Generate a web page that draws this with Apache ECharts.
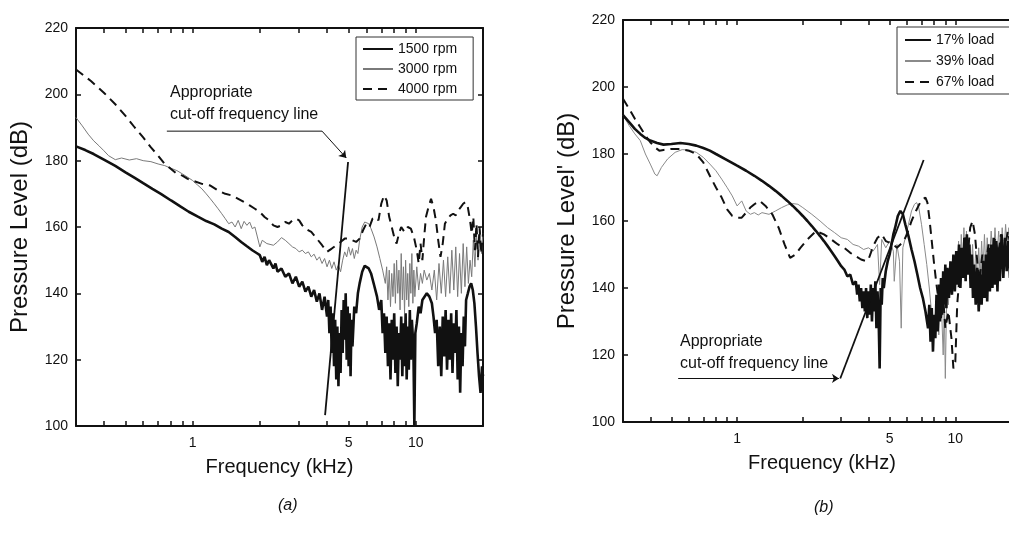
<!DOCTYPE html>
<html>
<head>
<meta charset="utf-8">
<script src="https://cdn.jsdelivr.net/npm/echarts@6/dist/echarts.min.js"></script>
<style>
html,body{margin:0;padding:0;background:#fff;}
#c{width:1009px;height:543px;}
</style>
</head>
<body>
<div id="c"></div>
<script>
// ---------- data (frequency kHz, level dB) ----------
const xTicks = [0.4,0.5,0.6,0.7,0.8,0.9,1,2,3,4,5,6,7,8,9,10,20];
const xTickLabels = [1,5,10];

// panel (a)
const rpm1500 = [[0.30,184.3],[0.33,183.2],[0.36,182],[0.40,180.3],[0.45,178.4],[0.50,176.5],[0.55,174.8],[0.60,173.2],[0.66,171.5],[0.72,170],[0.80,168],[0.88,166.2],[0.96,164.6],[1.05,163.2],[1.15,161.8],[1.25,160.8],[1.35,159.5],[1.45,158.5],[1.55,157],[1.65,155.5],[1.75,154.2],[1.85,153],[1.95,152],[2.0,151.5],[2.05,149.5],[2.1,151],[2.15,148.5],[2.2,150],[2.3,147.5],[2.35,149],[2.4,146.5],[2.5,147.5],[2.6,145],[2.7,146],[2.8,143],[2.9,145],[3.0,142],[3.1,143.5],[3.2,140.5],[3.3,142],[3.4,139],[3.5,141],[3.6,137.5],[3.7,140],[3.8,135],[3.9,139],[4.0,133],[4.05,138],[4.1,128],[4.15,136],[4.2,122],[4.25,134],[4.3,118],[4.35,132],[4.4,114],[4.45,130],[4.5,112],[4.55,128],[4.6,116],[4.65,135],[4.7,122],[4.75,138],[4.8,126],[4.85,140],[4.9,120],[4.95,136],[5.0,118],[5.05,134],[5.1,115],[5.15,132],[5.2,124],[5.3,136],[5.4,134],[5.5,140],[5.6,143],[5.75,146.5],[5.9,148.3],[6.0,148.5],[6.15,147.5],[6.3,146],[6.5,142.5],[6.7,139],[6.85,135],[7.0,138],[7.1,128],[7.2,134],[7.3,122],[7.4,133],[7.5,118],[7.6,131],[7.7,114],[7.8,132],[7.9,120],[8.0,134],[8.1,116],[8.2,130],[8.3,112],[8.4,128],[8.5,120],[8.6,133],[8.7,115],[8.8,131],[8.9,118],[9.0,134],[9.1,114],[9.2,130],[9.3,117],[9.4,135],[9.5,120],[9.6,132],[9.75,124],[9.85,100],[9.95,128],[10.1,131],[10.3,136],[10.5,134],[10.7,138],[10.9,138.5],[11.2,140],[11.5,139],[11.8,137],[12.0,133],[12.2,128],[12.4,132],[12.6,118],[12.8,130],[13.0,115],[13.2,133],[13.4,121],[13.6,135],[13.8,117],[14.0,132],[14.2,120],[14.4,134],[14.6,116],[14.8,131],[15.0,122],[15.2,135],[15.4,114],[15.6,130],[15.8,110],[16.0,128],[16.2,118],[16.4,133],[16.6,124],[16.8,138],[17.1,140],[17.4,142],[17.7,143],[18.0,141],[18.3,137],[18.6,130],[18.9,122],[19.2,115],[19.5,110],[19.8,118],[20,115]];

const rpm3000 = [[0.30,193],[0.32,190.5],[0.34,188],[0.36,186],[0.38,184.5],[0.40,183],[0.42,181.5],[0.45,180.3],[0.48,180.8],[0.52,180.2],[0.56,180.6],[0.60,180],[0.65,179.7],[0.70,179],[0.75,178.5],[0.80,177.7],[0.85,177],[0.90,176],[0.95,175],[1.0,174],[1.05,172.7],[1.1,171.5],[1.15,170],[1.2,168.5],[1.25,167],[1.3,165.5],[1.35,164],[1.4,162.5],[1.45,161],[1.5,161.5],[1.55,160],[1.6,162],[1.65,159.5],[1.7,161.7],[1.75,160.5],[1.8,161.5],[1.85,159.5],[1.9,160],[1.95,157],[2.0,154],[2.05,156],[2.15,155],[2.3,154.5],[2.4,155.5],[2.5,156.8],[2.6,156],[2.7,155],[2.8,154],[2.9,153.5],[3.0,152.5],[3.1,153],[3.2,152],[3.3,152.5],[3.4,151],[3.5,151.8],[3.6,150],[3.7,151],[3.8,149],[3.9,150.5],[4.0,148],[4.1,150],[4.2,147.5],[4.3,149.5],[4.4,147],[4.5,148.5],[4.6,146.5],[4.7,150],[4.8,152.5],[4.9,151],[5.0,154],[5.1,151.5],[5.2,153.5],[5.3,150.5],[5.4,153],[5.5,152],[5.6,156],[5.75,160],[5.9,161.5],[6.0,162],[6.15,161],[6.3,159.5],[6.5,157],[6.7,154],[6.9,150.5],[7.1,147],[7.3,143],[7.4,148],[7.5,138],[7.6,147],[7.7,136],[7.8,146],[7.9,139],[8.0,149],[8.1,137],[8.2,150],[8.3,140],[8.4,147],[8.5,135],[8.6,152],[8.7,138],[8.8,148],[8.9,134],[9.0,150],[9.1,138],[9.2,146],[9.3,136],[9.4,149],[9.5,140],[9.6,152],[9.7,137],[9.8,147],[9.9,139],[10.1,148],[10.3,141],[10.5,146],[10.7,143],[10.9,147],[11.2,144],[11.5,146],[11.8,141],[12.1,147],[12.4,138],[12.7,149],[13.0,140],[13.3,150],[13.6,139],[13.9,151],[14.2,140],[14.5,153],[14.8,141],[15.1,154],[15.4,139],[15.7,152],[16.0,140],[16.3,155],[16.6,142],[16.9,154],[17.2,143],[17.5,150],[17.8,145],[18.1,156],[18.4,148],[18.7,158],[19.0,150],[19.4,159],[19.7,152],[20,158]];

const rpm4000 = [[0.30,207.5],[0.35,204],[0.40,200.5],[0.45,197],[0.50,193.5],[0.55,190],[0.60,187],[0.65,184],[0.70,181.5],[0.75,179],[0.80,177.5],[0.85,176],[0.90,175.5],[0.95,174.5],[1.0,174],[1.1,173],[1.2,172.5],[1.3,171],[1.4,170],[1.5,169.5],[1.6,168.5],[1.7,167.5],[1.8,166.5],[1.9,165.5],[2.0,164.5],[2.1,163],[2.2,162],[2.3,160.5],[2.4,160],[2.5,160.5],[2.6,161.5],[2.7,161],[2.8,162],[2.9,162.5],[3.0,162],[3.1,160.5],[3.2,159.5],[3.4,158.5],[3.6,156.5],[3.8,154.5],[4.0,152.5],[4.2,153.5],[4.4,154.5],[4.6,155.5],[4.8,156.5],[5.0,156.5],[5.2,156],[5.4,155.5],[5.6,156.5],[5.8,159],[6.0,161],[6.2,160],[6.4,162.5],[6.6,163],[6.8,162],[7.0,167],[7.2,169.5],[7.4,168],[7.6,163],[7.8,160],[8.0,157],[8.2,155],[8.4,158],[8.6,160],[8.9,158.5],[9.2,160],[9.5,159.5],[9.8,157],[10.1,153],[10.3,149],[10.5,155],[10.7,150],[10.9,157],[11.1,163],[11.4,166],[11.7,168.5],[12.0,166],[12.3,162],[12.6,156],[12.9,151],[13.2,155],[13.5,161],[13.9,162.5],[14.3,163.5],[14.7,164],[15.1,163.5],[15.5,165],[15.9,166],[16.3,167],[16.7,167.5],[17.1,166],[17.5,162],[17.8,158],[18.1,163],[18.4,153],[18.7,161],[19.0,151],[19.3,160],[19.6,152],[20,158]];

// panel (b)
const load17 = [[0.30,191.6],[0.32,189.5],[0.34,187.5],[0.36,186],[0.38,184.8],[0.40,184],[0.43,183.3],[0.46,182.8],[0.50,183],[0.55,183.3],[0.60,183],[0.65,182.5],[0.70,181.8],[0.75,181],[0.80,180],[0.90,178.2],[1.0,176.5],[1.1,175],[1.2,173.5],[1.3,172],[1.4,170.5],[1.5,169],[1.6,167.5],[1.7,166],[1.8,164.5],[1.9,163],[2.0,161.5],[2.1,160],[2.2,158.5],[2.3,157],[2.4,155.5],[2.5,154],[2.6,152.5],[2.7,151],[2.8,149.5],[2.9,148],[3.0,146.5],[3.1,145.5],[3.2,143.5],[3.3,144],[3.4,141],[3.5,142],[3.55,138],[3.6,141],[3.65,136],[3.7,140],[3.75,134],[3.8,139],[3.85,133],[3.9,140],[3.95,131],[4.0,139],[4.05,132],[4.1,141],[4.15,130],[4.2,140],[4.25,133],[4.3,142],[4.35,128],[4.4,139],[4.45,132],[4.5,116],[4.55,140],[4.6,135],[4.65,143],[4.7,140],[4.8,145],[4.9,148],[5.0,150],[5.1,153],[5.2,156],[5.3,158],[5.45,161.5],[5.6,163],[5.75,162],[5.9,159],[6.1,155.5],[6.3,151.5],[6.5,148],[6.7,144],[6.9,140],[7.1,137],[7.3,133],[7.5,128],[7.6,135],[7.7,124],[7.8,134],[7.9,121],[8.0,132],[8.1,125],[8.2,138],[8.3,127],[8.4,141],[8.5,130],[8.6,143],[8.7,132],[8.8,145],[8.9,135],[9.0,147],[9.1,134],[9.2,146],[9.35,137],[9.5,148],[9.65,138],[9.8,150],[9.95,139],[10.1,151],[10.25,141],[10.4,153],[10.55,140],[10.7,152],[10.85,143],[11.0,155],[11.15,142],[11.3,156],[11.45,144],[11.6,153],[11.75,140],[11.9,150],[12.05,137],[12.2,147],[12.4,135],[12.6,146],[12.8,133],[13.0,144],[13.2,135],[13.4,148],[13.6,137],[13.8,150],[14.0,136],[14.2,152],[14.4,139],[14.6,153],[14.8,140],[15.0,155],[15.2,141],[15.4,154],[15.6,139],[15.8,152],[16.0,142],[16.3,156],[16.6,143],[16.9,155],[17.2,145],[17.5,154],[17.8,143],[18.1,153],[18.4,146],[18.7,155],[19.0,144],[19.3,152],[19.6,146],[20,150]];

const load39 = [[0.30,191.6],[0.32,188.5],[0.34,186],[0.36,184],[0.38,180],[0.40,177],[0.42,174],[0.43,173.5],[0.45,176],[0.48,178.5],[0.52,180.5],[0.56,181.3],[0.60,181.2],[0.65,180.5],[0.70,179],[0.75,177],[0.80,175],[0.85,172.5],[0.90,170],[0.95,167.5],[1.0,164.5],[1.05,166],[1.1,163],[1.15,162],[1.2,162.5],[1.25,161.8],[1.3,162.5],[1.4,162],[1.5,163],[1.6,164],[1.7,164.8],[1.8,165.2],[1.9,165],[2.0,164],[2.2,162],[2.4,160],[2.6,158],[2.8,156.5],[3.0,155],[3.2,154.5],[3.4,153],[3.6,152.5],[3.8,151.5],[4.0,152],[4.2,151],[4.4,153],[4.5,141],[4.6,154.5],[4.8,152],[5.0,154],[5.2,151],[5.25,142],[5.4,153],[5.55,148],[5.65,128],[5.75,152],[5.9,155],[6.1,159],[6.3,163],[6.5,165],[6.65,165.5],[6.8,164],[7.0,159],[7.2,153],[7.4,147],[7.6,140],[7.8,132],[8.0,128],[8.2,136],[8.4,126],[8.6,138],[8.8,120],[8.9,135],[9.0,113],[9.1,132],[9.2,141],[9.3,135],[9.45,146],[9.6,138],[9.75,149],[9.9,140],[10.05,151],[10.2,142],[10.35,154],[10.5,143],[10.65,156],[10.8,145],[10.95,158],[11.1,146],[11.25,157],[11.4,147],[11.6,155],[11.8,144],[12.0,153],[12.2,142],[12.4,151],[12.6,141],[12.8,152],[13.0,143],[13.2,154],[13.4,145],[13.6,156],[13.8,146],[14.0,155],[14.3,147],[14.6,157],[14.9,148],[15.2,158],[15.5,149],[15.8,157],[16.1,148],[16.4,158],[16.7,150],[17.0,159],[17.3,151],[17.6,158],[17.9,150],[18.2,157],[18.5,151],[18.8,158],[19.1,150],[19.4,156],[19.7,151],[20,155]];

const load67 = [[0.30,196.5],[0.32,193.5],[0.34,190.5],[0.36,188],[0.38,185.5],[0.40,183.5],[0.42,182],[0.44,181],[0.46,181.2],[0.50,181.5],[0.55,181.5],[0.60,181],[0.65,180],[0.70,177.5],[0.75,173.5],[0.80,170],[0.85,167],[0.90,163.5],[0.95,161.5],[1.0,161],[1.05,161],[1.1,162.5],[1.15,164],[1.2,165],[1.27,166],[1.35,164.5],[1.45,162],[1.55,158],[1.65,153],[1.75,149],[1.85,150],[1.95,152],[2.1,154.5],[2.3,157],[2.5,156],[2.7,154.5],[2.9,153],[3.1,152],[3.3,150.5],[3.5,149.5],[3.7,148.5],[3.9,148],[4.0,148.5],[4.1,150.5],[4.2,152.5],[4.4,155],[4.6,156],[4.8,154],[5.0,153.5],[5.2,153],[5.4,152],[5.6,153],[5.8,154],[6.0,156],[6.3,160],[6.6,163],[6.9,165.5],[7.1,166.5],[7.3,167],[7.45,165.5],[7.6,161],[7.8,154],[8.0,147],[8.2,141],[8.4,136],[8.6,131],[8.8,137],[9.0,128],[9.3,133],[9.6,125],[9.8,116],[10.0,118],[10.2,135],[10.5,145],[10.8,152],[11.1,155],[11.4,150],[11.7,158],[12.0,160],[12.3,156],[12.6,148],[12.9,142],[13.3,150],[13.7,145],[14.2,153],[14.7,147],[15.2,155],[15.7,150],[16.2,156],[16.8,151],[17.4,157],[18.0,152],[18.6,156],[19.2,150],[20,154]];

// cut-off frequency lines and annotation arrows
const cutoffA = [[3.92,103.3],[4.97,179.6]];
const arrowA1 = [[0.766,188.9],[3.80,188.9]];
const arrowA2 = [[3.80,188.9],[4.88,180.8]];
const cutoffB = [[2.97,113],[7.16,178.2]];
const arrowB = [[0.537,113],[2.93,113]];

// ---------- chart ----------
const FONT = '"Liberation Sans", Arial, sans-serif';
const INK = '#111';
const chart = echarts.init(document.getElementById('c'), null, {renderer:'canvas'});

function xAx(grid, pos, withName){
  return {
    type:'log', logBase:10, gridIndex:grid, position:pos, min:0.3, max:20,
    axisLine:{show:true, onZero:false, lineStyle:{color:INK, width:2}},
    axisTick:{show:true, inside:true, length:5, customValues:xTicks, lineStyle:{color:INK, width:1.5}},
    minorTick:{show:false},
    axisLabel:{show:withName, customValues:xTickLabels, formatter:(v)=>String(v), color:INK, fontSize:14, fontFamily:FONT, margin:10},
    splitLine:{show:false},
    name: withName ? 'Frequency (kHz)' : '',
    nameLocation:'middle', nameGap:31,
    nameTextStyle:{color:INK, fontSize:20, fontFamily:FONT}
  };
}
function yAx(grid, pos, name){
  return {
    type:'value', gridIndex:grid, position:pos, min:100, max:220, interval:20,
    axisLine:{show:true, onZero:false, lineStyle:{color:INK, width:2}},
    axisTick:{show:true, inside:true, length:5, lineStyle:{color:INK, width:1.5}},
    axisLabel:{show:!!name, color:INK, fontSize:14, fontFamily:FONT, margin:8},
    splitLine:{show:false},
    name: name || '', nameLocation:'middle', nameGap:44, nameRotate:90,
    nameTextStyle:{color:INK, fontSize:24, fontFamily:FONT}
  };
}
function lineS(name, data, xi, yi, color, width, dash, z){
  return {
    name, type:'line', data, xAxisIndex:xi, yAxisIndex:yi,
    symbol:'none', showSymbol:false, smooth:false, clip:true, z:z||2,
    lineStyle:{color, width, type:dash||'solid'},
    itemStyle:{color},
    emphasis:{disabled:true}, silent:true
  };
}
const legendCommon = {
  orient:'vertical', borderColor:'#333', borderWidth:1, backgroundColor:'#fff',
  itemHeight:12, selectedMode:false,
  itemStyle:{opacity:0},
  textStyle:{color:INK, fontSize:14, fontFamily:FONT}
};

const option = {
  backgroundColor:'#ffffff',
  animation:false,
  grid:[
    {left:76, top:28, width:407, height:398, outerBoundsMode:'none', containLabel:false},
    {left:623, top:20, width:398, height:402, outerBoundsMode:'none', containLabel:false}
  ],
  xAxis:[ xAx(0,'bottom',true), xAx(0,'top',false), xAx(1,'bottom',true), xAx(1,'top',false) ],
  yAxis:[ yAx(0,'left','Pressure Level (dB)'), yAx(0,'right',null), yAx(1,'left',"Pressure Level' (dB)"), yAx(1,'right',null) ],
  legend:[
    Object.assign({}, legendCommon, {data:['1500 rpm','3000 rpm','4000 rpm'], left:356, top:37,
      itemWidth:30, itemGap:6, padding:[5,16,4,6]}),
    Object.assign({}, legendCommon, {data:['17% load','39% load','67% load'], left:897, top:27,
      itemWidth:26, itemGap:7, padding:[6,40,5,7]})
  ],
  series:[
    lineS('3000 rpm', rpm3000, 0, 0, '#7a7a7a', 1, 'solid', 2),
    lineS('4000 rpm', rpm4000, 0, 0, INK, 2, [9,6], 3),
    lineS('1500 rpm', rpm1500, 0, 0, INK, 2.6, 'solid', 4),
    lineS('cutA', cutoffA, 0, 0, INK, 1.8, 'solid', 5),
    lineS('arrA1', arrowA1, 0, 0, INK, 1, 'solid', 5),
    {
      name:'arrA2', type:'lines', coordinateSystem:'cartesian2d', xAxisIndex:0, yAxisIndex:0,
      data:[{coords:arrowA2}], symbol:['none','arrow'], symbolSize:7,
      lineStyle:{color:INK, width:1, opacity:1}, silent:true, z:5
    },
    lineS('39% load', load39, 2, 2, '#8a8a8a', 1, 'solid', 2),
    lineS('67% load', load67, 2, 2, INK, 2, [9,6], 3),
    lineS('17% load', load17, 2, 2, INK, 2.6, 'solid', 4),
    lineS('cutB', cutoffB, 2, 2, INK, 1.8, 'solid', 5),
    {
      name:'arrB', type:'lines', coordinateSystem:'cartesian2d', xAxisIndex:2, yAxisIndex:2,
      data:[{coords:arrowB}], symbol:['none','arrow'], symbolSize:7,
      lineStyle:{color:INK, width:1, opacity:1}, silent:true, z:5
    }
  ],
  graphic:[
    {type:'text', left:170, top:85, silent:true, style:{text:'Appropriate', font:'16px '+FONT, fill:INK}},
    {type:'text', left:170, top:107, silent:true, style:{text:'cut-off frequency line', font:'16px '+FONT, fill:INK}},
    {type:'text', left:680, top:334, silent:true, style:{text:'Appropriate', font:'16px '+FONT, fill:INK}},
    {type:'text', left:680, top:356, silent:true, style:{text:'cut-off frequency line', font:'16px '+FONT, fill:INK}},
    {type:'text', left:278, top:498, silent:true, style:{text:'(a)', font:'italic 16px '+FONT, fill:INK}},
    {type:'text', left:814, top:500, silent:true, style:{text:'(b)', font:'italic 16px '+FONT, fill:INK}}
  ]
};
chart.setOption(option);
</script>
</body>
</html>
